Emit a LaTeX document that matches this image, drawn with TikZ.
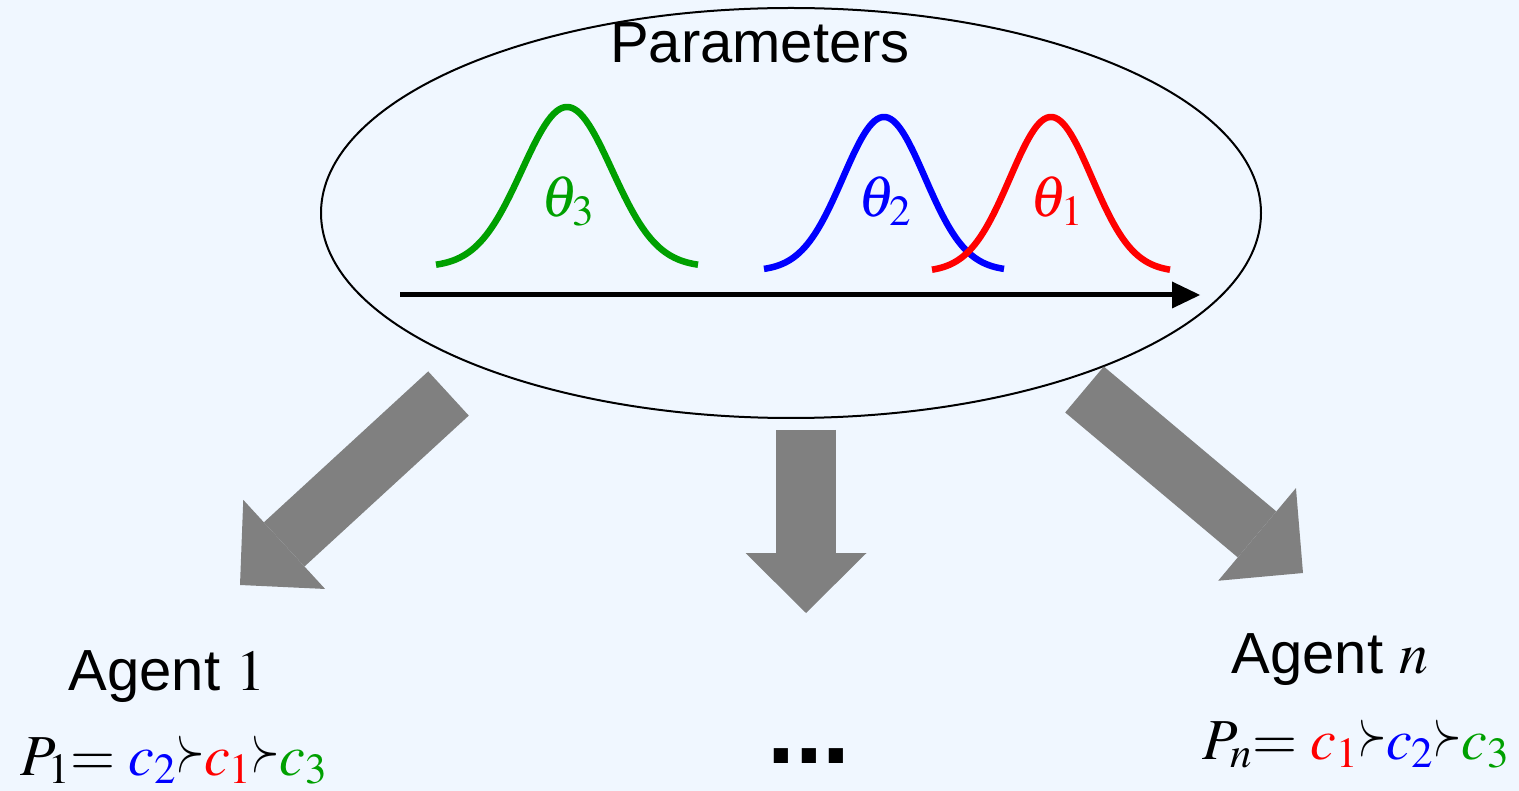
\documentclass[tikz,border=0pt]{standalone}
\usepackage{mathptmx}
\usepackage[no-math]{fontspec}
\setmainfont{Liberation Sans}
\usepackage{xcolor}
\usetikzlibrary{arrows.meta, positioning, shapes.geometric}

\definecolor{bgblue}{RGB}{240,247,255}
\definecolor{thgreen}{RGB}{0,160,0}
\definecolor{thblue}{RGB}{0,0,255}
\definecolor{thred}{RGB}{255,0,0}
\definecolor{fatgray}{RGB}{128,128,128}
\newcommand{\prefgt}{\mathrel{\raisebox{5pt}{\scalebox{0.62}[1.1]{$\succ$}}}}

\begin{document}
\begin{tikzpicture}[x=1pt, y=-1pt,
      lbl/.style={inner sep=0pt, anchor=base, font=\fontsize{58}{64}\selectfont},
      theta/.style={inner sep=0pt, anchor=base, font=\fontsize{58}{64}\selectfont},
      bell/.style={line width=6.5pt, line cap=butt},
      axis/.style={line width=5pt, -{Triangle[length=28pt, width=27pt, line width=0pt]}},
      fat/.style={line width=60pt, draw=fatgray, -{Triangle[length=60pt, width=121pt, line width=0pt]}}
    ]
      \fill[bgblue] (0,0) rectangle (1519,791);
      \useasboundingbox (0,0) rectangle (1519,791);
      % parameter space
      \node[ellipse, draw, line width=2pt, minimum width=940pt, minimum height=410pt, inner sep=0pt] (params) at (791,213) {};
      \node[lbl] (ptitle) at (760,63) {Parameters};
      \coordinate (ax0) at (400,295);
      \coordinate (ax1) at (1200,295);
      \draw[axis] (ax0) -- (ax1);
      \draw[bell, thgreen] plot[domain=-131:131, samples=90] ({567+\x}, {267-160*exp(-((\x/45)^2)/2)});
      \draw[bell, thblue] plot[domain=-120:120, samples=90] ({884+\x}, {271-154*exp(-((\x/41)^2)/2)});
      \draw[bell, thred] plot[domain=-119:119, samples=90] ({1051+\x}, {272-155*exp(-((\x/41)^2)/2)});
      \node[theta, text=thgreen] (th3) at (568,217) {$\theta_3$};
      \node[theta, text=thblue] (th2) at (885,217) {$\theta_2$};
      \node[theta, text=thred] (th1) at (1057,217) {$\theta_1$};
      % sampling arrows
      \coordinate (l0) at (448.5,393.5);
      \coordinate (l1) at (240,585);
      \coordinate (m0) at (806,430);
      \coordinate (m1) at (806,613);
      \coordinate (r0) at (1084.5,389.5);
      \coordinate (r1) at (1303,573);
      \draw[fat] (l0) -- (l1);
      \draw[fat] (m0) -- (m1);
      \draw[fat] (r0) -- (r1);
      % agents
      \node[lbl] (agent1) at (167,690) {Agent $1$};
      \node[lbl] (pref1) at (174,775) {$P_1{=}\;\textcolor{thblue}{c_2}{\prefgt}\textcolor{thred}{c_1}{\prefgt}\textcolor{thgreen}{c_3}$};
      \node[lbl, font=\fontsize{100}{100}\selectfont\bfseries] (dots) at (809,763) {...};
      \node[lbl] (agentn) at (1330,673) {Agent $n$};
      \node[lbl] (prefn) at (1356,759) {$P_n{=}\;\textcolor{thred}{c_1}{\prefgt}\textcolor{thblue}{c_2}{\prefgt}\textcolor{thgreen}{c_3}$};
    \end{tikzpicture}
\end{document}
